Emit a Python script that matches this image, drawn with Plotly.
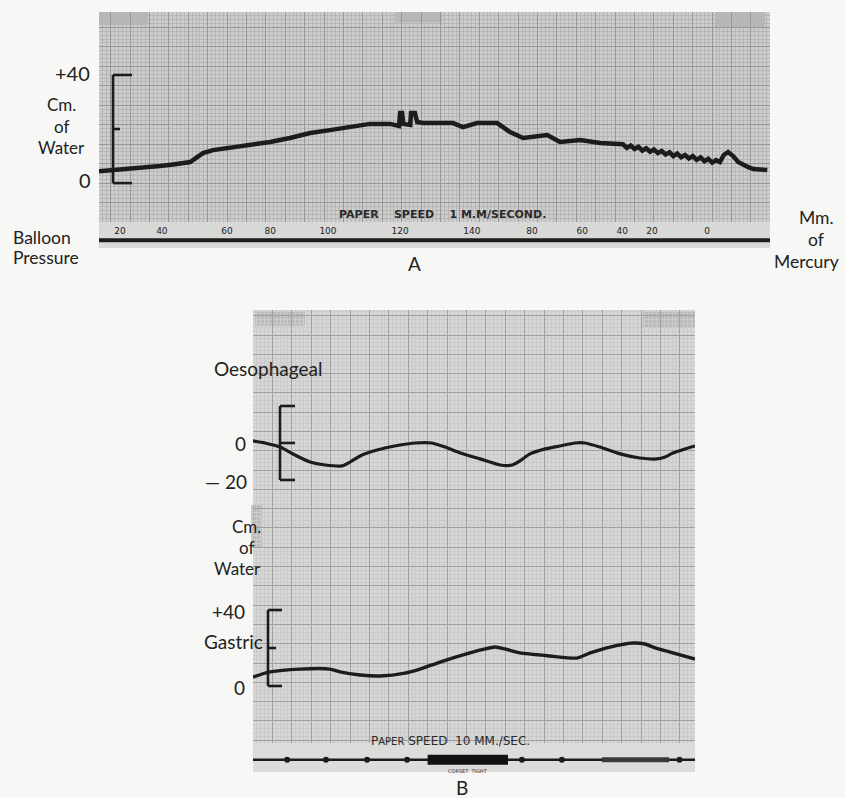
import plotly.graph_objects as go

W, H = 845, 798

# ---------------- Panel A data (time in s, pressure in cm of water) -------------
a_time = [0, 8.0, 15.7, 19.6, 23.5, 25.3, 26.8, 29.4, 35.6, 44.1, 49.2, 54.4, 59.5,
          64.7, 69.8, 75.0, 77.3, 77.6, 78.1, 78.4, 80.2, 80.4, 81.4, 82.0, 83.5,
          87.1, 91.2, 93.8, 95.6, 97.4, 102.6, 105.9, 109.3, 112.4, 115.5, 118.8,
          124.0, 129.1, 134.3,
          135, 136, 137, 138, 139, 140, 141, 142, 143, 144, 145, 146, 147, 148, 149,
          150, 151, 152, 153, 154, 155, 156, 157, 158, 159, 160, 161,
          162.1, 163.4, 164.7, 166.0, 167.3, 168.6, 170.4, 172.2, 172.9]
a_water = [4.4, 5.2, 6.3, 7.0, 7.8, 9.6, 11.1, 12.2, 13.3, 15.2, 16.7, 18.5, 19.6,
           20.7, 21.9, 21.9, 21.1, 25.9, 25.9, 21.9, 21.5, 25.9, 25.9, 22.6, 22.2,
           22.2, 22.2, 20.7, 21.5, 22.2, 22.2, 18.9, 16.7, 17.4, 17.8, 15.2,
           15.9, 14.8, 14.1,
           14.4, 13.0, 13.9, 12.6, 13.4, 12.0, 12.9, 11.6, 12.4, 11.1, 11.9, 10.6, 11.4,
           10.0, 10.9, 9.6, 10.4, 9.1, 10.0, 8.6, 9.5, 8.1, 9.0, 7.6, 8.5, 7.8,
           10.4, 11.5, 10.0, 7.8, 6.7, 5.9, 5.2, 4.8, 4.8]

# balloon pressure marks written on the strip (mm of mercury)
bp_time = [5.4, 16.2, 33.0, 44.1, 59.0, 77.6, 96.1, 111.6, 124.5, 134.8, 142.5, 156.7]
bp_value = ["20", "40", "60", "80", "100", "120", "140", "80", "60", "40", "20", "0"]

# ---------------- Panel B data (time in s, cm of water) --------------------------
b_time_oes = [0, 0.31, 0.70, 1.08, 1.47, 1.86, 2.29, 2.50, 2.76, 3.02, 3.40, 3.79,
              4.18, 4.61, 4.95, 5.34, 5.85, 6.37, 6.68, 6.88, 7.14, 7.53, 7.91, 8.30,
              8.56, 8.94, 9.46, 9.97, 10.41, 10.62, 10.82, 11.13, 11.39]
b_oes = [1.1, 0, -2.2, -6.5, -10.3, -11.9, -12.4, -10.3, -7.0, -4.9, -2.7, -1.1,
         0, 0, -2.2, -5.4, -8.6, -11.9, -11.9, -9.7, -5.9, -3.2, -1.6, 0,
         0, -2.2, -5.9, -8.1, -8.6, -7.6, -5.4, -3.2, -1.6]

b_time_gas = [0, 0.44, 1.21, 1.98, 2.24, 2.76, 3.27, 3.92, 4.30, 4.82, 5.59, 5.98,
              6.24, 6.49, 6.88, 7.65, 8.35, 8.69, 9.20, 9.79, 10.10, 10.31, 10.82, 11.39]
b_gas = [4.7, 7.4, 8.9, 8.9, 7.4, 5.8, 5.3, 6.8, 8.9, 12.6, 17.4, 19.5,
         20.5, 19.5, 17.4, 15.8, 14.7, 17.4, 20.5, 22.6, 22.1, 20.5, 17.4, 14.2]

# one-second time marks and "corset tight" period on strip B
b_marks = [0.88, 1.88, 2.94, 3.97, 6.93, 7.96, 10.99]
corset_tight = [4.5, 6.57]
strip_band = [8.99, 10.72]

INK = "#1c1c1c"
FONT = "Lato, 'Open Sans', sans-serif"


def px(x):
    return x / W


def py(y):
    return 1 - y / H


fig = go.Figure()

# Panel A trace
fig.add_trace(go.Scatter(x=a_time, y=a_water, xaxis="x", yaxis="y", mode="lines",
                         line=dict(color=INK, width=4.5), hoverinfo="skip"))
# Panel A strip
fig.add_trace(go.Scatter(x=[0, a_time[-1]], y=[0.3, 0.3], xaxis="x2", yaxis="y2",
                         mode="lines", line=dict(color=INK, width=4), hoverinfo="skip"))
fig.add_trace(go.Scatter(x=bp_time, y=[0.62] * len(bp_time), xaxis="x2", yaxis="y2",
                         mode="text", text=bp_value,
                         textfont=dict(family="'DejaVu Sans', sans-serif", size=9, color="#222222"),
                         hoverinfo="skip"))

# Panel B traces
fig.add_trace(go.Scatter(x=b_time_oes, y=b_oes, xaxis="x3", yaxis="y3", mode="lines",
                         line=dict(color=INK, width=3.2, shape="spline", smoothing=0.6),
                         hoverinfo="skip"))
fig.add_trace(go.Scatter(x=b_time_gas, y=b_gas, xaxis="x3", yaxis="y4", mode="lines",
                         line=dict(color=INK, width=3.4, shape="spline", smoothing=0.6),
                         hoverinfo="skip"))
# Panel B strip
fig.add_trace(go.Scatter(x=[0, b_time_oes[-1]], y=[0.42, 0.42], xaxis="x5", yaxis="y5",
                         mode="lines", line=dict(color=INK, width=2.5), hoverinfo="skip"))
fig.add_trace(go.Scatter(x=b_marks, y=[0.42] * len(b_marks), xaxis="x5", yaxis="y5",
                         mode="markers", marker=dict(color=INK, size=6, symbol="circle"),
                         hoverinfo="skip"))
fig.add_trace(go.Scatter(x=corset_tight, y=[0.42, 0.42], xaxis="x5", yaxis="y5",
                         mode="lines", line=dict(color="#111111", width=10), hoverinfo="skip"))
fig.add_trace(go.Scatter(x=strip_band, y=[0.42, 0.42], xaxis="x5", yaxis="y5",
                         mode="lines", line=dict(color="#3a3a3a", width=5), hoverinfo="skip"))

hidden = dict(showgrid=False, zeroline=False, showticklabels=False, ticks="",
              showline=False, fixedrange=True)

A_dom_x = [px(99), px(770)]
B_dom_x = [px(253), px(695)]

fig.update_layout(
    width=W, height=H, margin=dict(l=0, r=0, t=0, b=0),
    paper_bgcolor="#f7f7f5", plot_bgcolor="rgba(0,0,0,0)", showlegend=False,
    xaxis=dict(domain=A_dom_x, anchor="y", range=[0, 172.9], tick0=3, dtick=5,
               showgrid=True, gridcolor="#979797", gridwidth=1,
               minor=dict(tick0=0, dtick=1, showgrid=True, gridcolor="#b6b6b6", gridwidth=0.6),
               zeroline=False, showticklabels=False, ticks="", fixedrange=True),
    yaxis=dict(domain=[py(222), py(12)], anchor="x", range=[-14.4, 63.3], tick0=0, dtick=7.2,
               showgrid=True, gridcolor="#979797", gridwidth=1,
               minor=dict(tick0=0, dtick=1.44, showgrid=True, gridcolor="#b6b6b6", gridwidth=0.6),
               zeroline=False, showticklabels=False, ticks="", fixedrange=True),
    xaxis2=dict(domain=A_dom_x, anchor="y2", range=[0, 172.9], **hidden),
    yaxis2=dict(domain=[py(248), py(222)], anchor="x2", range=[0, 1], **hidden),
    xaxis3=dict(domain=B_dom_x, anchor="y3", range=[0, 11.39], tick0=0, dtick=0.5,
                showgrid=True, gridcolor="#a0a0a0", gridwidth=1,
                minor=dict(tick0=0, dtick=0.1, showgrid=True, gridcolor="#cbcbcb", gridwidth=0.5),
                zeroline=False, showticklabels=False, ticks="", fixedrange=True),
    yaxis3=dict(domain=[py(743), py(310)], anchor="x3", range=[-162.2, 71.9], tick0=6.2,
                dtick=10.43, showgrid=True, gridcolor="#a0a0a0", gridwidth=1,
                minor=dict(tick0=6.2, dtick=2.086, showgrid=True, gridcolor="#cbcbcb", gridwidth=0.5),
                zeroline=False, showticklabels=False, ticks="", fixedrange=True),
    yaxis4=dict(domain=[py(743), py(310)], anchor="x3", overlaying="y3",
                range=[-30.0, 197.9], **hidden),
    xaxis5=dict(domain=B_dom_x, anchor="y5", range=[0, 11.39], **hidden),
    yaxis5=dict(domain=[py(772), py(743)], anchor="x5", range=[0, 1], **hidden),
)

shapes = []
# paper backgrounds
shapes.append(dict(type="rect", xref="paper", yref="paper", x0=px(99), x1=px(770),
                   y0=py(222), y1=py(12), fillcolor="#cdcdcd", line=dict(width=0), layer="below"))
shapes.append(dict(type="rect", xref="paper", yref="paper", x0=px(99), x1=px(770),
                   y0=py(248), y1=py(222), fillcolor="#d8d8d6", line=dict(width=0), layer="below"))
shapes.append(dict(type="rect", xref="paper", yref="paper", x0=px(253), x1=px(695),
                   y0=py(743), y1=py(310), fillcolor="#d6d6d4", line=dict(width=0), layer="below"))
shapes.append(dict(type="rect", xref="paper", yref="paper", x0=px(253), x1=px(695),
                   y0=py(772), y1=py(743), fillcolor="#dcdcda", line=dict(width=0), layer="below"))
# darker registration patches on the paper
for (x0, x1, y0, y1) in [(99, 148, 12, 25), (395, 442, 12, 22), (715, 765, 12, 27),
                         (255, 305, 311, 326), (643, 695, 312, 328), (251, 262, 505, 548)]:
    shapes.append(dict(type="rect", xref="paper", yref="paper", x0=px(x0), x1=px(x1),
                       y0=py(y1), y1=py(y0), fillcolor="#a8a8a8", opacity=0.6,
                       line=dict(width=0), layer="below"))


def bracket(xv, yref, lo, hi, tick_len, mid_len):
    out = [dict(type="line", xref="paper", yref=yref, x0=px(xv), x1=px(xv), y0=lo, y1=hi,
                line=dict(color=INK, width=2.6))]
    for val, ln in [(lo, tick_len), (hi, tick_len), ((lo + hi) / 2, mid_len)]:
        out.append(dict(type="line", xref="paper", yref=yref, x0=px(xv), x1=px(xv + ln),
                        y0=val, y1=val, line=dict(color=INK, width=2.6)))
    return out


shapes += bracket(113, "y", 0, 40, 19, 7)
shapes += bracket(280, "y3", -20, 20, 15, 15)
shapes += bracket(268, "y4", 0, 40, 14, 8)
fig.update_layout(shapes=shapes)

ann = []


def label(text, x, y, size=20, xanchor="center", color="#222222", family=FONT):
    ann.append(dict(text=text, x=px(x), y=py(y), xref="paper", yref="paper",
                    showarrow=False, xanchor=xanchor, yanchor="middle", align="center",
                    font=dict(family=family, size=size, color=color)))


STACK = 17

# Panel A labels
label("+40", 92, 73, xanchor="right")
label("Cm.", 62, 105, size=STACK)
label("of", 62, 126, size=STACK)
label("Water", 62, 147, size=STACK)
label("0", 93, 180, xanchor="right")
label("Balloon", 11, 237, xanchor="left", size=STACK + 0.5)
label("Pressure", 11, 258, xanchor="left", size=STACK + 0.5)
label("A", 414, 263, size=19)
label("Mm.", 816, 218, size=STACK + 0.5)
label("of", 816, 239.5, size=STACK + 0.5)
label("Mercury", 806, 261, size=STACK + 0.5)
label("<b>PAPER\u00a0\u00a0\u00a0 SPEED\u00a0\u00a0\u00a0 1 M.M/SECOND.</b>", 442, 214, size=11,
      color="#2a2a2a", family="'DejaVu Sans', sans-serif")

# Panel B labels
label("Oesophageal", 268, 368, size=19)
label("0", 248, 443, xanchor="right", size=19)
label("\u2014 20", 249, 481, xanchor="right", size=19)
label("Cm.", 246, 526, size=STACK)
label("of", 246, 547, size=STACK)
label("Water", 238, 568, size=STACK)
label("+40", 247, 611, xanchor="right", size=19)
label("Gastric", 265, 641, size=19, xanchor="right")
label("0", 247, 687, xanchor="right", size=19)
label("P<span style='font-size:10px'>APER</span> SPEED\u00a0 10 MM./SEC.", 450, 741, size=12,
      color="#2a2a2a", family="'DejaVu Sans', sans-serif")
label("CORSET\u00a0 TIGHT", 468, 771, size=5, color="#333333",
      family="'DejaVu Sans', sans-serif")
label("B", 462, 787, size=19)

fig.update_layout(annotations=ann)
fig.write_html(
    "out.html",
    config={"displayModeBar": False},
    post_script="document.body.style.margin='0';document.body.style.overflow='hidden';",
)
